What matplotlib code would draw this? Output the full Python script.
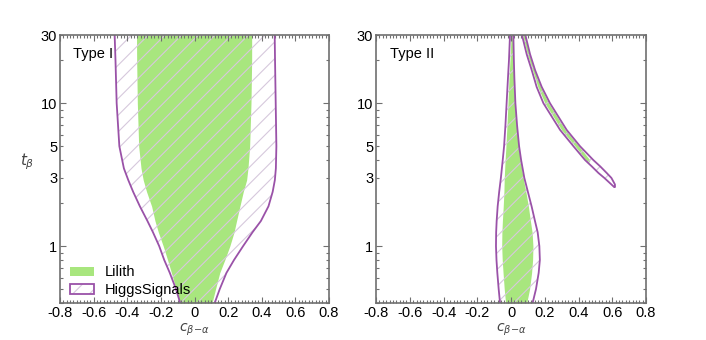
import numpy as np
import matplotlib
matplotlib.use("Agg")
import matplotlib.pyplot as plt
from matplotlib.patches import Patch
from matplotlib.legend_handler import HandlerTuple
from matplotlib.ticker import MultipleLocator, FixedLocator, FuncFormatter

plt.rcParams['font.family'] = ['Liberation Sans', 'DejaVu Sans']
plt.rcParams['hatch.linewidth'] = 0.8

green = '#a8e67e'
purple = '#9a52a8'
hatchc = '#d6c8dc'
framec = '#707070'

# ---- Type I ----
t1 = [0.4, 0.5, 0.65, 0.8, 1.0, 1.25, 1.5, 1.9, 2.4, 2.9, 3.5, 5, 10, 20, 30]
hs1_lo = [-0.085, -0.11, -0.147, -0.18, -0.21, -0.247, -0.28, -0.325, -0.365, -0.394, -0.42, -0.447, -0.463, -0.47, -0.475]
hs1_hi = [0.12, 0.15, 0.19, 0.235, 0.289, 0.345, 0.395, 0.44, 0.465, 0.478, 0.484, 0.487, 0.483, 0.479, 0.477]
li1_lo = [-0.092, -0.11, -0.137, -0.16, -0.186, -0.215, -0.235, -0.255, -0.285, -0.305, -0.318, -0.332, -0.34, -0.344, -0.345]
li1_hi = [0.104, 0.125, 0.15, 0.18, 0.21, 0.235, 0.25, 0.27, 0.29, 0.31, 0.318, 0.328, 0.336, 0.34, 0.34]

# ---- Type II, right-sign branch ----
t2 = [0.4, 0.5, 0.65, 0.8, 1.0, 1.25, 1.5, 1.9, 2.4, 3, 4, 5, 7, 10, 15, 20, 30]
hs2_lo = [-0.065, -0.073, -0.081, -0.086, -0.089, -0.088, -0.085, -0.079, -0.07, -0.06, -0.049, -0.041, -0.033, -0.026, -0.018, -0.012, -0.006]
hs2_hi = [0.128, 0.148, 0.164, 0.171, 0.168, 0.158, 0.142, 0.122, 0.1, 0.079, 0.06, 0.048, 0.036, 0.026, 0.02, 0.017, 0.014]
li2_lo = [-0.032, -0.04, -0.047, -0.052, -0.055, -0.054, -0.051, -0.046, -0.042, -0.04, -0.035, -0.03, -0.024, -0.018, -0.012, -0.006, 0.0]
li2_hi = [0.093, 0.11, 0.122, 0.128, 0.13, 0.125, 0.115, 0.103, 0.088, 0.072, 0.055, 0.044, 0.032, 0.022, 0.016, 0.013, 0.01]

# ---- Type II, wrong-sign branch ----
t3 = [2.6, 2.7, 3.0, 3.25, 3.6, 4.0, 5, 6.5, 10, 13, 17, 22, 30]
hs3_lo = [0.61, 0.595, 0.553, 0.518, 0.48, 0.439, 0.37, 0.291, 0.192, 0.152, 0.123, 0.093, 0.065]
hs3_hi = [0.616, 0.616, 0.595, 0.567, 0.53, 0.488, 0.409, 0.33, 0.231, 0.182, 0.143, 0.113, 0.085]
t4 = [3.8, 4.0, 5, 6.5, 10, 13, 17, 22, 30]
li4_lo = [0.455, 0.445, 0.38, 0.30, 0.201, 0.159, 0.128, 0.097, 0.069]
li4_hi = [0.458, 0.468, 0.402, 0.322, 0.223, 0.176, 0.139, 0.108, 0.08]

xticks = [-0.8, -0.6, -0.4, -0.2, 0, 0.2, 0.4, 0.6, 0.8]
ylabels = [1, 3, 5, 10, 30]


def hs_region(ax, t, lo, hi, closed=False):
    ax.fill_betweenx(t, lo, hi, facecolor='none', edgecolor=hatchc, hatch='//', linewidth=0)
    if closed:
        ax.plot(list(lo) + list(hi[::-1]), list(t) + list(t[::-1]), color=purple, lw=1.3)
    else:
        ax.plot(lo, t, color=purple, lw=1.3)
        ax.plot(hi, t, color=purple, lw=1.3)


def style(ax, name):
    ax.set_yscale('log')
    ax.set_xlim(-0.8, 0.8)
    ax.set_ylim(0.4, 30)
    ax.set_xticks(xticks)
    ax.set_xticklabels(['0' if v == 0 else f'{v:g}' for v in xticks])
    ax.xaxis.set_minor_locator(MultipleLocator(0.02))
    ax.yaxis.set_major_locator(FixedLocator([1, 10]))
    ax.yaxis.set_minor_locator(FixedLocator([0.4, 0.5, 0.6, 0.7, 0.8, 0.9, 2, 3, 4, 5, 6, 7, 8, 9, 20, 30]))
    fmt = FuncFormatter(lambda v, p: f'{v:g}' if round(v, 3) in ylabels else '')
    ax.yaxis.set_major_formatter(fmt)
    ax.yaxis.set_minor_formatter(fmt)
    ax.tick_params(which='both', direction='in', top=True, right=True, color=framec,
                   labelsize=10.5, width=0.8, pad=2)
    ax.tick_params(which='major', length=4)
    ax.tick_params(which='minor', length=2)
    for s in ax.spines.values():
        s.set_color(framec)
        s.set_linewidth(1.2)
    ax.set_xlabel(r'$c_{\beta\!-\!\alpha}$', fontsize=10, color='#444444', va='baseline')
    ax.xaxis.set_label_coords(0.5, -28.5 / 268)
    ax.text(0.05, 0.93, name, transform=ax.transAxes, fontsize=10.5, va='center')


fig = plt.figure(figsize=(7.06, 3.4), dpi=100)
ax1 = fig.add_axes([60 / 706, 37 / 340, 269 / 706, 268 / 340])
ax2 = fig.add_axes([376 / 706, 37 / 340, 270 / 706, 268 / 340])

ax1.fill_betweenx(t1, li1_lo, li1_hi, color=green, linewidth=0)
hs_region(ax1, t1, hs1_lo, hs1_hi)

ax2.fill_betweenx(t2, li2_lo, li2_hi, color=green, linewidth=0)
ax2.fill_betweenx(t4, li4_lo, li4_hi, color=green, linewidth=0)
hs_region(ax2, t2, hs2_lo, hs2_hi)
hs_region(ax2, t3, hs3_lo, hs3_hi, closed=True)

style(ax1, 'Type I')
style(ax2, 'Type II')
ax1.set_ylabel(r'$t_\beta$', rotation=0, fontsize=11, color='#444444', va='center', ha='center')
ax1.yaxis.set_label_coords(-33 / 269, 0.526)

h1 = Patch(facecolor=green, edgecolor='none')
h2 = (Patch(facecolor='white', edgecolor=hatchc, hatch='//', linewidth=0),
      Patch(facecolor='none', edgecolor=purple, linewidth=1.3))
ax1.legend([h1, h2], ['Lilith', 'HiggsSignals'], handler_map={tuple: HandlerTuple(ndivide=1)},
           loc='lower left', frameon=False, fontsize=10.5, handlelength=1.65,
           handleheight=0.6, handletextpad=0.7, labelspacing=0.25,
           bbox_to_anchor=(0.008, -0.008), borderaxespad=0.15, borderpad=0.4)

fig.savefig('out.png', dpi=100)
